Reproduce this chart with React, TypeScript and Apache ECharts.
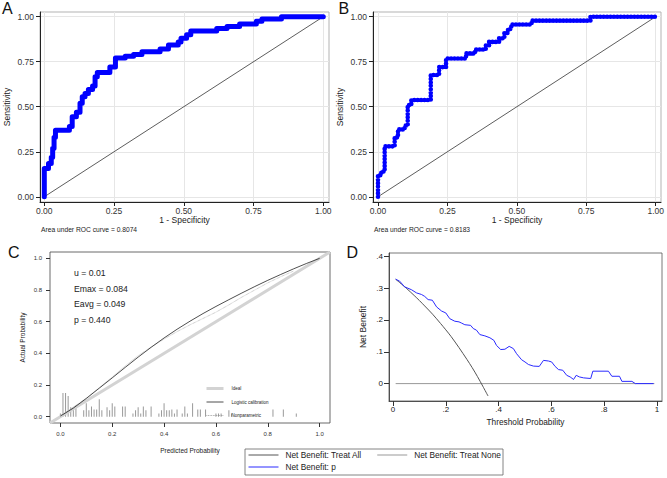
import React, { useEffect, useRef } from "react";
import * as echarts from "echarts";

const FONT = "'Liberation Sans', Arial, Helvetica, sans-serif";

// ---- tick values / labels ----
const rocTicks = [0, 0.25, 0.5, 0.75, 1];
const rocTickLabels = ["0.00", "0.25", "0.50", "0.75", "1.00"];
const calTicks = [0, 0.2, 0.4, 0.6, 0.8, 1];
const calTickLabels = ["0.0", "0.2", "0.4", "0.6", "0.8", "1.0"];
const dcaXTicks = [0, 0.2, 0.4, 0.6, 0.8, 1];
const dcaXTickLabels = ["0", ".2", ".4", ".6", ".8", "1"];
const dcaYTicks = [0, 0.1, 0.2, 0.3, 0.4];
const dcaYTickLabels = ["0", ".1", ".2", ".3", ".4"];

// ---- texts ----
const panelLetters = ["A", "B", "C", "D"];
const aucTexts = ["Area under ROC curve = 0.8074", "Area under ROC curve = 0.8183"];
const calStats = ["u = 0.01", "Emax = 0.084", "Eavg = 0.049", "p = 0.440"];

// ---- ROC A (1 - specificity, sensitivity) ----
const rocA = [
  [0, 0], [0, 0.157], [0.015, 0.157], [0.015, 0.185], [0.025, 0.185], [0.025, 0.22],
  [0.03, 0.22], [0.03, 0.27], [0.035, 0.27], [0.035, 0.33], [0.04, 0.33], [0.04, 0.37],
  [0.09, 0.37], [0.09, 0.39], [0.1, 0.39], [0.1, 0.444], [0.115, 0.444], [0.115, 0.47],
  [0.128, 0.47], [0.128, 0.52], [0.136, 0.52], [0.136, 0.556], [0.146, 0.556], [0.146, 0.574],
  [0.158, 0.574], [0.158, 0.596], [0.173, 0.596], [0.173, 0.615], [0.182, 0.615], [0.182, 0.667],
  [0.19, 0.667], [0.19, 0.69], [0.235, 0.69], [0.235, 0.72], [0.255, 0.72], [0.255, 0.77],
  [0.29, 0.77], [0.29, 0.78], [0.32, 0.78], [0.32, 0.79], [0.35, 0.79], [0.35, 0.805],
  [0.415, 0.805], [0.415, 0.82], [0.445, 0.82], [0.445, 0.843], [0.48, 0.843], [0.48, 0.86],
  [0.49, 0.86], [0.49, 0.88], [0.51, 0.88], [0.51, 0.9], [0.525, 0.9], [0.525, 0.92],
  [0.618, 0.92], [0.618, 0.935], [0.655, 0.935], [0.655, 0.945], [0.7, 0.945], [0.7, 0.959],
  [0.76, 0.959], [0.76, 0.975], [0.78, 0.975], [0.78, 0.987], [0.85, 0.987], [0.85, 1], [1, 1],
];

// ---- ROC B ----
const rocB = [
  [0, 0], [0, 0.12], [0.012, 0.12], [0.012, 0.14], [0.024, 0.14], [0.024, 0.28],
  [0.06, 0.28], [0.06, 0.33], [0.072, 0.33], [0.072, 0.374], [0.096, 0.374], [0.096, 0.395],
  [0.107, 0.395], [0.107, 0.509], [0.12, 0.509], [0.12, 0.537], [0.19, 0.537], [0.19, 0.676],
  [0.22, 0.676], [0.22, 0.72], [0.245, 0.72], [0.245, 0.768], [0.317, 0.768], [0.317, 0.796],
  [0.35, 0.796], [0.35, 0.818], [0.388, 0.818], [0.388, 0.84], [0.4, 0.84], [0.4, 0.86],
  [0.436, 0.86], [0.436, 0.88], [0.455, 0.88], [0.455, 0.91], [0.468, 0.91], [0.468, 0.932],
  [0.48, 0.932], [0.48, 0.957], [0.553, 0.957], [0.553, 0.978], [0.765, 0.978], [0.765, 1], [1, 1],
];

const rocDiagonal = [[0, 0], [1, 1]];

// ---- Calibration (C) ----
const calIdeal = [[-0.04, -0.04], [1.04, 1.04]];
const calLogistic = [
  [0, 0.004], [0.05, 0.054], [0.1, 0.115], [0.15, 0.18], [0.2, 0.245], [0.25, 0.311],
  [0.3, 0.376], [0.35, 0.438], [0.4, 0.497], [0.45, 0.552], [0.5, 0.603], [0.55, 0.651],
  [0.6, 0.696], [0.65, 0.739], [0.7, 0.781], [0.75, 0.822], [0.8, 0.861], [0.85, 0.898],
  [0.9, 0.934], [0.95, 0.968], [1, 1],
];
const calNonparam = [
  [0.01, 0.01], [0.05, 0.06], [0.1, 0.117], [0.15, 0.183], [0.2, 0.25], [0.25, 0.32],
  [0.3, 0.385], [0.35, 0.44], [0.4, 0.49], [0.45, 0.537], [0.5, 0.58], [0.55, 0.62],
  [0.6, 0.66], [0.65, 0.706], [0.7, 0.755], [0.75, 0.8], [0.8, 0.845], [0.85, 0.884], [0.9, 0.92],
];
const calRug = [
  [0, 0.02], [0.01, 0.15], [0.02, 0.15], [0.03, 0.13], [0.04, 0.06], [0.05, 0.06], [0.06, 0.07],
  [0.09, 0.04], [0.1, 0.085], [0.11, 0.04], [0.12, 0.065], [0.13, 0.045], [0.14, 0.045],
  [0.15, 0.11], [0.16, 0.04], [0.18, 0.06], [0.19, 0.04], [0.2, 0.085], [0.21, 0.065],
  [0.24, 0.065], [0.25, 0.065], [0.28, 0.02], [0.29, 0.04], [0.3, 0.06], [0.31, 0.02],
  [0.32, 0.065], [0.33, 0.04], [0.35, 0.065], [0.38, 0.02], [0.39, 0.04], [0.4, 0.085],
  [0.41, 0.04], [0.42, 0.04], [0.43, 0.045], [0.44, 0.02], [0.45, 0.045], [0.47, 0.02],
  [0.48, 0.065], [0.49, 0.02], [0.51, 0.085], [0.53, 0.045], [0.54, 0.045], [0.56, 0.045],
  [0.6, 0.02], [0.61, 0.02], [0.62, 0.02], [0.65, 0.04], [0.66, 0.02], [0.82, 0.045],
  [0.86, 0.045], [0.91, 0.02],
];

// ---- Decision curve (D) ----
const dcaTreatAll = [
  [0.01, 0.328], [0.05, 0.3], [0.08, 0.277], [0.1, 0.261], [0.12, 0.244], [0.15, 0.218],
  [0.18, 0.189], [0.2, 0.169], [0.22, 0.148], [0.25, 0.113], [0.28, 0.076], [0.3, 0.05],
  [0.32, 0.022], [0.34, -0.008], [0.36, -0.039],
];
const dcaTreatNone = [[0.01, 0], [0.99, 0]];
const dcaModel = [
  [0.01, 0.328], [0.025, 0.322], [0.044, 0.304], [0.07, 0.295], [0.089, 0.285], [0.108, 0.28],
  [0.12, 0.274], [0.133, 0.264], [0.149, 0.262], [0.165, 0.241], [0.184, 0.228], [0.2, 0.222],
  [0.215, 0.204], [0.234, 0.196], [0.25, 0.194], [0.26, 0.19], [0.272, 0.185], [0.294, 0.183],
  [0.304, 0.173], [0.316, 0.168], [0.329, 0.154], [0.348, 0.15], [0.367, 0.144], [0.382, 0.136],
  [0.392, 0.12], [0.408, 0.107], [0.424, 0.108], [0.44, 0.117], [0.456, 0.11], [0.468, 0.094],
  [0.487, 0.075], [0.5, 0.068], [0.513, 0.06], [0.532, 0.055], [0.554, 0.054], [0.57, 0.073],
  [0.589, 0.071], [0.601, 0.068], [0.614, 0.054], [0.627, 0.044], [0.643, 0.042], [0.658, 0.026],
  [0.671, 0.021], [0.684, 0.013], [0.694, 0.026], [0.706, 0.021], [0.722, 0.018], [0.749, 0.016],
  [0.757, 0.039], [0.816, 0.039], [0.829, 0.023], [0.858, 0.023], [0.867, 0.007], [0.905, 0.007],
  [0.918, 0], [0.987, 0],
];

const labelFrom = (ticks: number[], labels: string[]) => (v: number) => {
  const i = ticks.findIndex((t) => Math.abs(t - v) < 1e-9);
  return i >= 0 ? labels[i] : "";
};

function rocXAxis(gridIndex: number, min: number, max: number) {
  return {
    type: "value", gridIndex, min, max,
    name: "1 - Specificity", nameLocation: "middle", nameGap: 13,
    nameTextStyle: { fontSize: 8.5, color: "#222", fontFamily: FONT },
    axisLine: { show: true, onZero: false, lineStyle: { color: "#222", width: 1 } },
    axisTick: { show: true, length: 4, customValues: rocTicks, lineStyle: { color: "#222" } },
    axisLabel: { customValues: rocTicks, formatter: labelFrom(rocTicks, rocTickLabels), fontSize: 8.5, color: "#333", margin: 4, fontFamily: FONT },
    splitLine: { show: true, lineStyle: { color: "#e6e6e6", width: 1 } },
  };
}
function rocYAxis(gridIndex: number) {
  return {
    type: "value", gridIndex, min: -0.029, max: 1.026,
    name: "Sensitivity", nameLocation: "middle", nameGap: 29,
    nameTextStyle: { fontSize: 8.5, color: "#222", fontFamily: FONT },
    axisLine: { show: true, onZero: false, lineStyle: { color: "#222", width: 1 } },
    axisTick: { show: true, length: 4, customValues: rocTicks, lineStyle: { color: "#222" } },
    axisLabel: { customValues: rocTicks, formatter: labelFrom(rocTicks, rocTickLabels), fontSize: 8.5, color: "#333", margin: 6, fontFamily: FONT },
    splitLine: { show: true, lineStyle: { color: "#e6e6e6", width: 1 } },
  };
}

const hiddenSymbol = { opacity: 0 };

const option: any = {
  animation: false,
  backgroundColor: "#fff",
  textStyle: { fontFamily: FONT },
  grid: [
    { left: 40, top: 12, width: 289, height: 190, show: true, borderColor: "#b3b3b3", borderWidth: 1 },
    { left: 373, top: 12, width: 289, height: 190, show: true, borderColor: "#b3b3b3", borderWidth: 1 },
    { left: 50, top: 252, width: 280, height: 171, show: true, borderColor: "#444", borderWidth: 0.8 },
    { left: 389, top: 253, width: 273, height: 148, show: true, borderColor: "#555", borderWidth: 0.8 },
  ],
  xAxis: [
    rocXAxis(0, -0.0154, 1.0204),
    rocXAxis(1, -0.018, 1.019),
    {
      type: "value", gridIndex: 2, min: -0.04, max: 1.04,
      name: "Predicted Probability", nameLocation: "middle", nameGap: 24,
      nameTextStyle: { fontSize: 6.5, color: "#222", fontFamily: FONT },
      axisLine: { show: false, onZero: false },
      axisTick: { show: true, length: 4, customValues: calTicks, lineStyle: { color: "#333" } },
      axisLabel: { customValues: calTicks, formatter: labelFrom(calTicks, calTickLabels), fontSize: 6, color: "#333", margin: 8, fontFamily: FONT },
      splitLine: { show: false },
    },
    {
      type: "value", gridIndex: 3, min: -0.0152, max: 1.019,
      name: "Threshold Probability", nameLocation: "middle", nameGap: 17,
      nameTextStyle: { fontSize: 8.3, color: "#222", fontFamily: FONT },
      axisLine: { show: true, onZero: false, lineStyle: { color: "#333", width: 0.8 } },
      axisTick: { show: true, length: 5, customValues: dcaXTicks, lineStyle: { color: "#333" } },
      axisLabel: { customValues: dcaXTicks, formatter: labelFrom(dcaXTicks, dcaXTickLabels), fontSize: 8, color: "#222", margin: 4, fontFamily: FONT },
      splitLine: { show: false },
    },
  ],
  yAxis: [
    rocYAxis(0),
    rocYAxis(1),
    {
      type: "value", gridIndex: 2, min: -0.04, max: 1.04,
      name: "Actual Probability", nameLocation: "middle", nameGap: 24,
      nameTextStyle: { fontSize: 6.5, color: "#222", fontFamily: FONT },
      axisLine: { show: false, onZero: false },
      axisTick: { show: true, length: 4, customValues: calTicks, lineStyle: { color: "#333" } },
      axisLabel: { customValues: calTicks, formatter: labelFrom(calTicks, calTickLabels), fontSize: 6, color: "#333", margin: 8, fontFamily: FONT },
      splitLine: { show: false },
    },
    {
      type: "value", gridIndex: 3, min: -0.0547, max: 0.4104,
      name: "Net Benefit", nameLocation: "middle", nameGap: 22,
      nameTextStyle: { fontSize: 8.5, color: "#222", fontFamily: FONT },
      axisLine: { show: true, onZero: false, lineStyle: { color: "#333", width: 0.8 } },
      axisTick: { show: true, length: 5, customValues: dcaYTicks, lineStyle: { color: "#333" } },
      axisLabel: { customValues: dcaYTicks, formatter: labelFrom(dcaYTicks, dcaYTickLabels), fontSize: 8, color: "#222", margin: 6, fontFamily: FONT },
      splitLine: { show: false },
    },
  ],
  legend: [
    {
      data: [
        { name: "Ideal", itemStyle: hiddenSymbol, lineStyle: { width: 3, color: "#d3d3d3" } },
        { name: "Logistic calibration", itemStyle: hiddenSymbol, lineStyle: { width: 0.8, color: "#222" } },
        { name: "Nonparametric", itemStyle: hiddenSymbol, lineStyle: { width: 0.8, color: "#888", type: "dotted" } },
      ],
      orient: "vertical", left: 205, top: 386, padding: 0,
      itemWidth: 17, itemHeight: 6, itemGap: 8.5, selectedMode: false,
      textStyle: { fontSize: 4.5, color: "#222", fontFamily: FONT, padding: [0, 0, 0, 3] },
    },
    {
      data: [
        { name: "Net Benefit: Treat All", itemStyle: hiddenSymbol, lineStyle: { width: 1, color: "#555" } },
        { name: "Net Benefit: Treat None", itemStyle: hiddenSymbol, lineStyle: { width: 1, color: "#999" } },
      ],
      orient: "horizontal", left: 248, top: 451, padding: 0,
      itemWidth: 30, itemHeight: 9, itemGap: 15, selectedMode: false,
      textStyle: { fontSize: 8.3, color: "#222", fontFamily: FONT, padding: [0, 0, 0, 2] },
    },
    {
      data: [{ name: "Net Benefit: p", itemStyle: hiddenSymbol, lineStyle: { width: 1, color: "#2a2aff" } }],
      orient: "horizontal", left: 248, top: 463, padding: 0,
      itemWidth: 30, itemHeight: 9, itemGap: 15, selectedMode: false,
      textStyle: { fontSize: 8.3, color: "#222", fontFamily: FONT, padding: [0, 0, 0, 2] },
    },
  ],
  graphic: [
    { type: "text", x: 2, y: 8.5, style: { text: panelLetters[0], font: `16px ${FONT}`, fill: "#111", textVerticalAlign: "middle" } },
    { type: "text", x: 338.5, y: 8.5, style: { text: panelLetters[1], font: `16px ${FONT}`, fill: "#111", textVerticalAlign: "middle" } },
    { type: "text", x: 8, y: 252.5, style: { text: panelLetters[2], font: `16px ${FONT}`, fill: "#111", textVerticalAlign: "middle" } },
    { type: "text", x: 346.5, y: 252.5, style: { text: panelLetters[3], font: `16px ${FONT}`, fill: "#111", textVerticalAlign: "middle" } },
    { type: "text", x: 41, y: 229.5, style: { text: aucTexts[0], font: `6.7px ${FONT}`, fill: "#222", textVerticalAlign: "middle" } },
    { type: "text", x: 374, y: 229.5, style: { text: aucTexts[1], font: `6.7px ${FONT}`, fill: "#222", textVerticalAlign: "middle" } },
    ...calStats.map((t, i) => ({
      type: "text", x: 74, y: 273 + i * 15.7,
      style: { text: t, font: `8.7px ${FONT}`, fill: "#222", textVerticalAlign: "middle" },
    })),
    { type: "rect", shape: { x: 245, y: 449, width: 258, height: 26 }, style: { fill: "none", stroke: "#666", lineWidth: 0.8 } },
  ],
  series: [
    { type: "line", name: "diagA", xAxisIndex: 0, yAxisIndex: 0, data: rocDiagonal, symbol: "none", lineStyle: { color: "#333", width: 0.8 }, z: 2 },
    { type: "line", name: "ROC A", xAxisIndex: 0, yAxisIndex: 0, data: rocA, symbol: "none", clip: false,
      lineStyle: { color: "#0000ff", width: 5, cap: "round", join: "round" }, z: 3 },
    { type: "line", name: "diagB", xAxisIndex: 1, yAxisIndex: 1, data: rocDiagonal, symbol: "none", lineStyle: { color: "#333", width: 0.8 }, z: 2 },
    { type: "line", name: "ROC B", xAxisIndex: 1, yAxisIndex: 1, data: rocB, symbol: "none", clip: false,
      lineStyle: { color: "#0000ff", width: 4.6, type: [0.01, 3.4], cap: "round", join: "round" }, z: 3 },
    { type: "bar", name: "rug", xAxisIndex: 2, yAxisIndex: 2, data: calRug, barWidth: 1, itemStyle: { color: "#999" }, z: 2 },
    { type: "line", name: "Ideal", color: "#d3d3d3", xAxisIndex: 2, yAxisIndex: 2, data: calIdeal, symbol: "none", lineStyle: { color: "#d3d3d3", width: 3 }, z: 2 },
    { type: "line", name: "Nonparametric", color: "#999", xAxisIndex: 2, yAxisIndex: 2, data: calNonparam, symbol: "none",
      lineStyle: { color: "#999", width: 0.7, type: "dotted" }, z: 3 },
    { type: "line", name: "Logistic calibration", color: "#222", xAxisIndex: 2, yAxisIndex: 2, data: calLogistic, symbol: "none",
      lineStyle: { color: "#222", width: 0.8 }, z: 4 },
    { type: "line", name: "Net Benefit: Treat None", color: "#999", xAxisIndex: 3, yAxisIndex: 3, data: dcaTreatNone, symbol: "none",
      lineStyle: { color: "#999", width: 1 }, z: 2 },
    { type: "line", name: "Net Benefit: Treat All", color: "#555", xAxisIndex: 3, yAxisIndex: 3, data: dcaTreatAll, symbol: "none", smooth: 0.3,
      lineStyle: { color: "#555", width: 1 }, z: 3 },
    { type: "line", name: "Net Benefit: p", color: "#2a2aff", xAxisIndex: 3, yAxisIndex: 3, data: dcaModel, symbol: "none",
      lineStyle: { color: "#2a2aff", width: 1 }, z: 4 },
  ],
};

export default function App() {
  const ref = useRef<HTMLDivElement>(null);
  useEffect(() => {
    if (!ref.current) return;
    const chart = echarts.init(ref.current, null, { renderer: "svg" });
    chart.setOption(option);
    return () => chart.dispose();
  }, []);
  return <div ref={ref} style={{ position: "absolute", left: 0, top: 0, width: 667, height: 478 }} />;
}
